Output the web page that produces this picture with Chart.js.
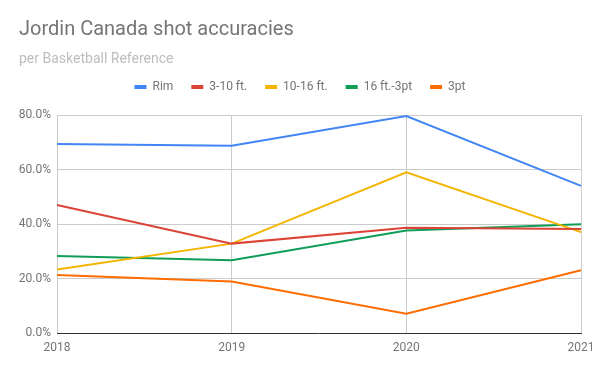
<!DOCTYPE html>
<html>
<head>
<meta charset="utf-8">
<script src="https://cdn.jsdelivr.net/npm/chart.js@4"></script>
<style>
  html, body { margin: 0; padding: 0; background: #fff; }
  #wrap { width: 600px; height: 371px; }
</style>
</head>
<body>
<div id="wrap"><canvas id="chart" width="600" height="371"></canvas></div>
<script>
// data
const years = ["2018", "2019", "2020", "2021"];
const rim = [69.4, 68.7, 79.6, 54.0];
const short310 = [47.0, 32.8, 38.6, 38.2];
const mid1016 = [23.3, 32.8, 59.0, 37.0];
const long16 = [28.3, 26.7, 37.6, 39.9];
const three = [21.3, 18.9, 7.1, 23.0];
const yTicks = [0, 20, 40, 60, 80];

function series(label, data, color)
{
    return {
        label: label,
        data: data,
        borderColor: color,
        backgroundColor: color,
        borderWidth: 2,
        pointRadius: 0,
        tension: 0
    };
}

const grey = "#757575";

// some room under the legend, before the plot starts
const legendGap = {
    id: 'legendGap',
    beforeInit: function(chart) {
        const fit = chart.legend.fit;
        chart.legend.fit = function() {
            fit.bind(chart.legend)();
            this.height += 12;
        };
    }
};

new Chart(document.getElementById("chart"), {
    type: 'line',
    data: {
        labels: years,
        datasets: [
            series("Rim", rim, "#4285F4"),
            series("3-10 ft.", short310, "#DB4437"),
            series("10-16 ft.", mid1016, "#F4B400"),
            series("16 ft.-3pt", long16, "#0F9D58"),
            series("3pt", three, "#FF6D01")
        ]
    },
    plugins: [legendGap],
    options: {
        responsive: false,
        animation: false,
        layout: { padding: { left: 19, right: 19, top: 0, bottom: 0 } },
        plugins: {
            title: {
                display: true,
                text: "Jordin Canada shot accuracies",
                align: 'start',
                color: grey,
                font: { family: "Roboto", size: 20, weight: 'normal' },
                padding: { top: 18, bottom: 10 }
            },
            subtitle: {
                display: true,
                text: "per Basketball Reference",
                align: 'start',
                color: "#BDBDBD",
                font: { family: "Roboto", size: 14, weight: 'normal', lineHeight: 1 },
                padding: { top: 0, bottom: -3 }
            },
            legend: {
                position: 'top',
                labels: {
                    boxWidth: 12,
                    boxHeight: 4,
                    padding: 18,
                    color: grey,
                    font: { family: "Roboto", size: 12 },
                    generateLabels: function(chart) {
                        const items = Chart.defaults.plugins.legend.labels.generateLabels(chart);
                        items.forEach(function(it) { it.lineWidth = 0; });
                        return items;
                    }
                }
            },
            tooltip: { enabled: false }
        },
        scales: {
            x: {
                offset: false,
                grid: { color: "#cccccc", drawTicks: false },
                border: { color: "#333333", width: 1 },
                ticks: {
                    color: grey,
                    font: { family: "Roboto", size: 12 },
                    padding: 8,
                    maxRotation: 0
                },
                afterFit: function(scale) {
                    scale.height = 38;
                    scale.paddingRight = 0;
                    scale.paddingLeft = 0;
                }
            },
            y: {
                min: 0,
                max: 80,
                afterBuildTicks: function(scale) {
                    scale.ticks = yTicks.map(function(v) { return { value: v }; });
                },
                grid: { color: "#cccccc", drawTicks: false },
                border: { display: false },
                ticks: {
                    color: grey,
                    font: { family: "Roboto", size: 12 },
                    padding: 6,
                    callback: function(v) { return v.toFixed(1) + "%"; }
                },
                afterFit: function(scale) { scale.width = 38; }
            }
        }
    }
});
</script>
</body>
</html>
